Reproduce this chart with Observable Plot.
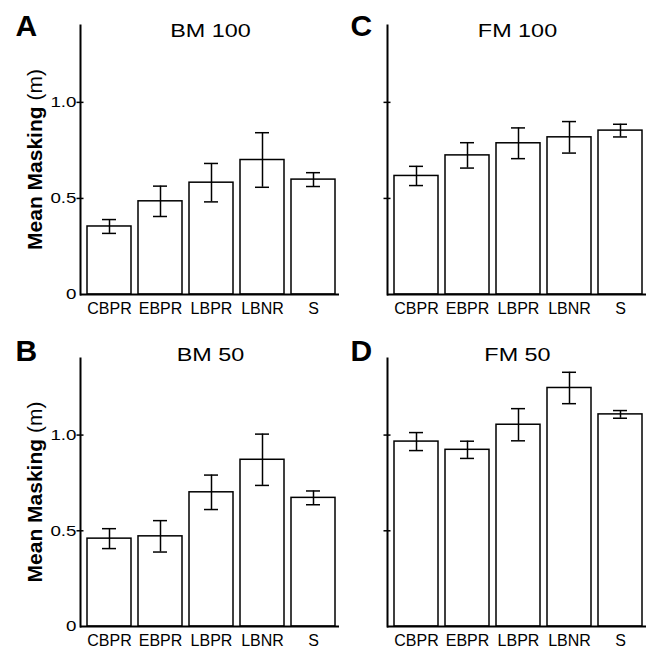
<!DOCTYPE html>
<html><head><meta charset="utf-8">
<script src="https://cdn.jsdelivr.net/npm/d3@7"></script>
<script src="https://cdn.jsdelivr.net/npm/@observablehq/plot@0.6"></script>
<style>
body{margin:0;background:#fff;}
#wrap{position:relative;width:653px;height:648px;font-family:"Liberation Sans",Arial,sans-serif;}
#wrap svg{position:absolute;overflow:visible;}
</style></head><body><div id="wrap"></div>
<script>
const categories = ["CBPR", "EBPR", "LBPR", "LBNR", "S"];
const bm100Mean = [0.354, 0.485, 0.582, 0.700, 0.598];
const bm100Err  = [0.036, 0.079, 0.100, 0.142, 0.036];
const fm100Mean = [0.617, 0.724, 0.787, 0.818, 0.853];
const fm100Err  = [0.050, 0.066, 0.080, 0.082, 0.033];
const bm50Mean  = [0.459, 0.471, 0.701, 0.871, 0.672];
const bm50Err   = [0.052, 0.082, 0.090, 0.134, 0.036];
const fm50Mean  = [0.966, 0.923, 1.054, 1.246, 1.108];
const fm50Err   = [0.047, 0.045, 0.084, 0.082, 0.020];
const yTicks = [0, 0.5, 1.0];
const yTickLabels = ["0", "0.5", "1.0"];
const yMax = 1.4;
const yLabelBold = "Mean Masking";
const yLabelUnit = " (m)";

const panels = [
  {letter: "A", title: "BM 100", mean: bm100Mean, err: bm100Err, col: 0, row: 0},
  {letter: "C", title: "FM 100", mean: fm100Mean, err: fm100Err, col: 1, row: 0},
  {letter: "B", title: "BM 50",  mean: bm50Mean,  err: bm50Err,  col: 0, row: 1},
  {letter: "D", title: "FM 50",  mean: fm50Mean,  err: fm50Err,  col: 1, row: 1}
];

const cols = [
  {left: 0,   width: 340, marginLeft: 80, marginRight: 1, letterDx: -65},
  {left: 340, width: 313, marginLeft: 47, marginRight: 7, letterDx: -37}
];
const rows = [
  {top: 0,   height: 320, marginTop: 25, marginBottom: 26, titleDy: 11, letterDy: 10},
  {top: 320, height: 328, marginTop: 38, marginBottom: 22, titleDy: 2,  letterDy: 2}
];

// stretch a text element horizontally about its anchor point
function stretchX(el, s) {
  const ax = parseFloat(el.getAttribute("x")) || 0;
  const t = el.getAttribute("transform") || "";
  el.setAttribute("transform", `${t} translate(${ax},0) scale(${s},1) translate(${-ax},0)`);
}

const wrap = document.getElementById("wrap");

for (const p of panels) {
  const c = cols[p.col], r = rows[p.row];
  const data = categories.map((cat, i) => ({
    cat, mean: p.mean[i], lo: p.mean[i] - p.err[i], hi: p.mean[i] + p.err[i]
  }));
  const marks = [
    Plot.barY(data, {x: "cat", y: "mean", fill: "white", stroke: "black", strokeWidth: 1.5}),
    Plot.ruleX(data, {x: "cat", y1: "lo", y2: "hi", stroke: "black", strokeWidth: 1.5}),
    Plot.tickY(data, {x: "cat", y: "lo", insetLeft: 15, insetRight: 15, stroke: "black", strokeWidth: 1.5}),
    Plot.tickY(data, {x: "cat", y: "hi", insetLeft: 15, insetRight: 15, stroke: "black", strokeWidth: 1.5}),
    Plot.ruleY([0], {stroke: "black", strokeWidth: 2}),
    Plot.frame({anchor: "left", stroke: "black", strokeWidth: 2}),
    Plot.axisY({ticks: yTicks.slice(1), tickSize: 7, dx: 3.5, stroke: "black", strokeWidth: 1.5, tickFormat: () => "", label: null}),
    Plot.axisX({tickSize: 0, tickPadding: 8, fontSize: 16, label: null}),
    Plot.text([p.title], {frameAnchor: "top", lineAnchor: "bottom", dx: 0.5, dy: r.titleDy, fontSize: 18, fill: "black"}),
    Plot.text([p.letter], {frameAnchor: "top-left", textAnchor: "start", lineAnchor: "bottom", dx: c.letterDx, dy: r.letterDy, fontSize: 30, fontWeight: "bold", fill: "black"})
  ];
  if (p.col === 0) {
    marks.push(Plot.axisY({ticks: yTicks, tickFormat: d => yTickLabels[yTicks.indexOf(d)], tickSize: 0, tickPadding: 4, fontSize: 15, label: null, fill: "black"}));
  }
  const chart = Plot.plot({
    width: c.width,
    height: r.height,
    marginLeft: c.marginLeft,
    marginRight: c.marginRight,
    marginTop: r.marginTop,
    marginBottom: r.marginBottom,
    style: {fontFamily: '"Liberation Sans", Arial, sans-serif', fontSize: "16px", color: "black", background: "transparent", overflow: "visible"},
    x: {domain: categories, paddingInner: 0.14, paddingOuter: 0.07, insetLeft: 3},
    y: {domain: [0, yMax]},
    marks
  });
  chart.style.left = c.left + "px";
  chart.style.top = r.top + "px";
  const svg = d3.select(chart);
  svg.selectAll("text").filter(function() { return this.textContent === p.title; })
    .each(function() { stretchX(this, 1.3); });
  svg.selectAll("text").filter(function() { return yTickLabels.includes(this.textContent); })
    .each(function() { stretchX(this, 1.25); });
  if (p.col === 0) {
    const cy = (r.marginTop + (r.height - r.marginBottom)) / 2;
    const t = svg.append("text")
      .attr("transform", `translate(41.5,${cy}) rotate(-90)`)
      .attr("text-anchor", "middle")
      .attr("font-size", 21)
      .attr("fill", "black");
    t.append("tspan").attr("font-weight", "bold").text(yLabelBold);
    t.append("tspan").text(yLabelUnit);
  }
  wrap.appendChild(chart);
}
</script></body></html>
